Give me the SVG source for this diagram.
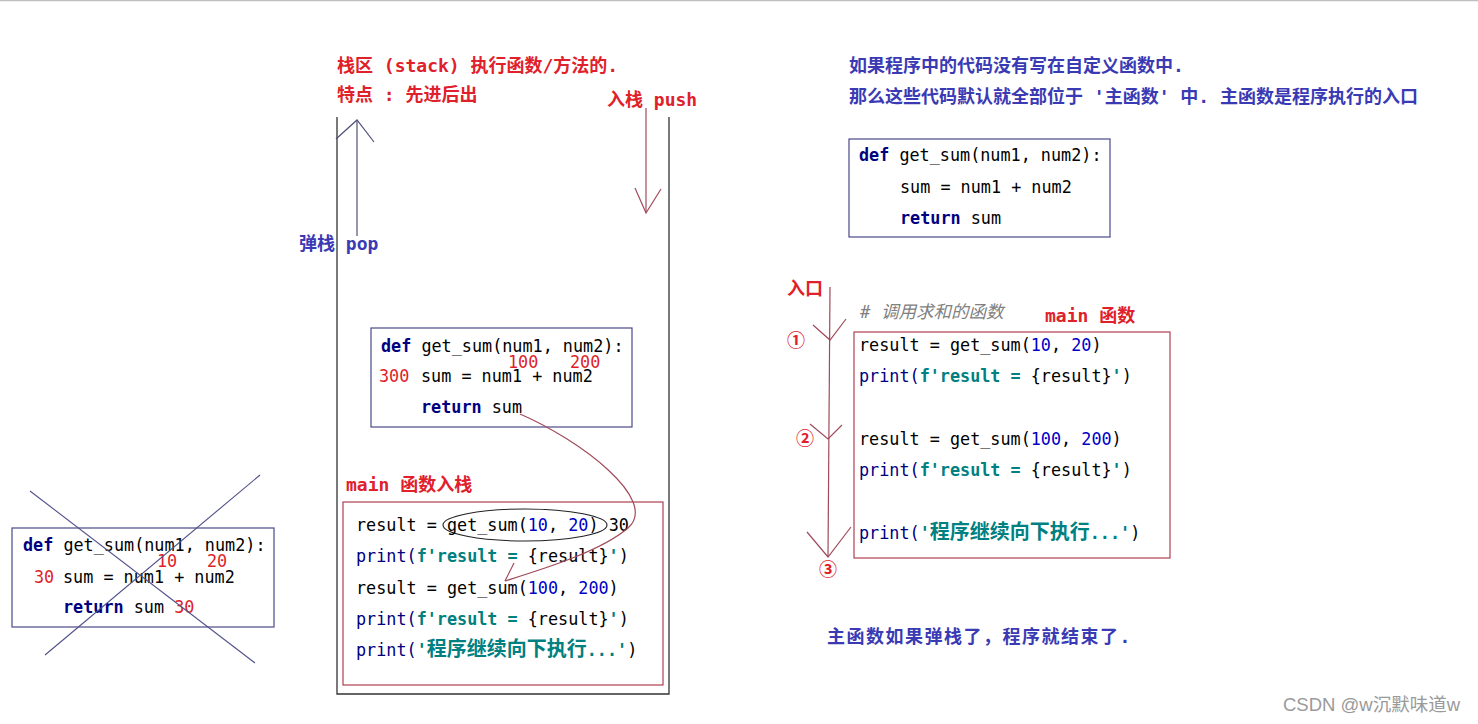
<svg xmlns="http://www.w3.org/2000/svg" width="1478" height="724" viewBox="0 0 1478 724">
<style>
.code{font-family:"DejaVu Sans Mono","Liberation Mono","Noto Sans CJK SC",monospace;font-size:16.8px;fill:#000}
.kw{fill:#000080;font-weight:bold}
.fn{fill:#000080}
.str{fill:#008080;font-weight:bold}
.num{fill:#0000c8}
.rn{fill:#e01e28}
.cj{font-family:"Noto Sans CJK SC",sans-serif;font-size:20px}
.lr{font-family:"DejaVu Sans Mono","Noto Sans CJK SC",sans-serif;font-weight:bold;fill:#e0202a;font-size:18px}
.lb{font-family:"DejaVu Sans Mono","Noto Sans CJK SC",sans-serif;font-weight:bold;fill:#3a3ab4;font-size:18px}
.cm{font-family:"DejaVu Sans Mono","Noto Sans CJK SC",sans-serif;font-style:italic;fill:#808080;font-size:17.5px}
.boxb{fill:#fff;stroke:#4a4a8a;stroke-width:1.2}
.boxr{fill:none;stroke:#b04050;stroke-width:1.2}
.ar{fill:none;stroke:#a04a5a;stroke-width:1.2}
.ag{fill:none;stroke:#50507a;stroke-width:1.2}
</style>
<rect x="0" y="0" width="1478" height="724" fill="#fff"/>
<line x1="0" y1="0.5" x2="1478" y2="0.5" stroke="#c0c0c0" stroke-width="1.5"/>

<g id="stack-title">
<text class="lr" x="337" y="72">栈区 (stack) 执行函数/方法的.</text>
<text class="lr" x="337" y="101">特点 : 先进后出</text>
<text class="lr" x="607" y="106">入栈 push</text>
<text class="lb" x="299" y="250">弹栈 pop</text>
</g>

<g id="stack">
<polyline points="337,117 337,694 669,694 669,117" fill="none" stroke="#333" stroke-width="1.3"/>
</g>

<g id="getsum-stack">
<rect class="boxb" x="371" y="328" width="261" height="99"/>
<text class="code" x="381" y="352"><tspan class="kw">def</tspan> get_sum(num1, num2):</text>
<text class="code rn" x="508" y="368">100</text>
<text class="code rn" x="570" y="368">200</text>
<text class="code" x="379" y="382"><tspan class="rn">300</tspan></text>
<text class="code" x="421" y="382">sum = num1 + num2</text>
<text class="code" x="421" y="413"><tspan class="kw">return</tspan> sum</text>
</g>

<g id="main-stack">
<text class="lr" x="346" y="491">main 函数入栈</text>
<rect class="boxr" x="343" y="502" width="320" height="183"/>
<ellipse cx="525" cy="525" rx="82" ry="16" fill="none" stroke="#222" stroke-width="1.1"/>
<text class="code" x="356" y="531">result = get_sum(<tspan class="num">10</tspan>, <tspan class="num">20</tspan>) 30</text>
<text class="code" x="356" y="562"><tspan class="fn">print(</tspan><tspan class="str">f'result = </tspan>{result}<tspan class="str">'</tspan>)</text>
<text class="code" x="356" y="594">result = get_sum(<tspan class="num">100</tspan>, <tspan class="num">200</tspan>)</text>
<text class="code" x="356" y="625"><tspan class="fn">print(</tspan><tspan class="str">f'result = </tspan>{result}<tspan class="str">'</tspan>)</text>
<text class="code" x="356" y="656"><tspan class="fn">print(</tspan><tspan class="str">'</tspan><tspan class="str cj">程序继续向下执行</tspan><tspan class="str">...'</tspan>)</text>
</g>

<g id="getsum-popped">
<rect class="boxb" x="12" y="528" width="262" height="99" fill-opacity="0"/>
<text class="code" x="23" y="551"><tspan class="kw">def</tspan> get_sum(num1, num2):</text>
<text class="code rn" x="157" y="567">10</text>
<text class="code rn" x="207" y="567">20</text>
<text class="code rn" x="34" y="583">30</text>
<text class="code" x="63" y="583">sum = num1 + num2</text>
<text class="code" x="63" y="613"><tspan class="kw">return</tspan> sum <tspan class="rn">30</tspan></text>
</g>

<g id="notes">
<text class="lb" x="849" y="72">如果程序中的代码没有写在自定义函数中.</text>
<text class="lb" x="849" y="103">那么这些代码默认就全部位于 '主函数' 中. 主函数是程序执行的入口</text>
<text class="lb" x="827" y="643" letter-spacing="1.5">主函数如果弹栈了，程序就结束了.</text>
</g>

<g id="getsum-def">
<rect class="boxb" x="849" y="139" width="261" height="98"/>
<text class="code" x="859" y="161"><tspan class="kw">def</tspan> get_sum(num1, num2):</text>
<text class="code" x="900" y="193">sum = num1 + num2</text>
<text class="code" x="900" y="224"><tspan class="kw">return</tspan> sum</text>
</g>

<g id="entry">
<text class="lr" x="787" y="295">入口</text>
<text class="lr" x="787" y="347" font-family="DejaVu Sans" font-size="19">①</text>
<text class="lr" x="796" y="445" font-family="DejaVu Sans" font-size="19">②</text>
<text class="lr" x="819" y="576" font-family="DejaVu Sans" font-size="19">③</text>
</g>

<g id="main-func">
<text class="cm" x="860" y="318"># 调用求和的函数</text>
<text class="lr" x="1045" y="322">main 函数</text>
<rect class="boxr" x="854" y="332" width="316" height="226"/>
<text class="code" x="859" y="351">result = get_sum(<tspan class="num">10</tspan>, <tspan class="num">20</tspan>)</text>
<text class="code" x="859" y="382"><tspan class="fn">print(</tspan><tspan class="str">f'result = </tspan>{result}<tspan class="str">'</tspan>)</text>
<text class="code" x="859" y="445">result = get_sum(<tspan class="num">100</tspan>, <tspan class="num">200</tspan>)</text>
<text class="code" x="859" y="476"><tspan class="fn">print(</tspan><tspan class="str">f'result = </tspan>{result}<tspan class="str">'</tspan>)</text>
<text class="code" x="859" y="539"><tspan class="fn">print(</tspan><tspan class="str">'</tspan><tspan class="str cj">程序继续向下执行</tspan><tspan class="str">...'</tspan>)</text>
</g>

<g id="connectors">
<line class="ag" x1="357" y1="236" x2="357" y2="121"/>
<polyline class="ag" points="336,139 357,120 374,142"/>
<line class="ar" x1="646" y1="108" x2="646" y2="212"/>
<polyline class="ar" points="635,188 646,213 661,189"/>
<path class="ar" d="M520,414 C580,440 660,500 628,528 C600,552 540,570 505,581"/>
<line class="ar" x1="505" y1="581" x2="514" y2="563"/>
<line x1="30" y1="491" x2="255" y2="663" stroke="#50508a" stroke-width="1.1"/>
<line x1="260" y1="475" x2="45" y2="655" stroke="#50508a" stroke-width="1.1"/>
<line class="ar" x1="830" y1="287" x2="828" y2="557"/>
<polyline class="ar" points="813,325 830,340 846,319"/>
<polyline class="ar" points="810,424 828,439 842,425"/>
<polyline class="ar" points="807,532 828,557 851,527"/>
</g>

<g id="watermark">
<text x="1283" y="711" font-family="Liberation Sans,Noto Sans CJK SC,sans-serif" font-size="18.5" fill="#9a9a9a">CSDN @w沉默味道w</text>
</g>
</svg>
